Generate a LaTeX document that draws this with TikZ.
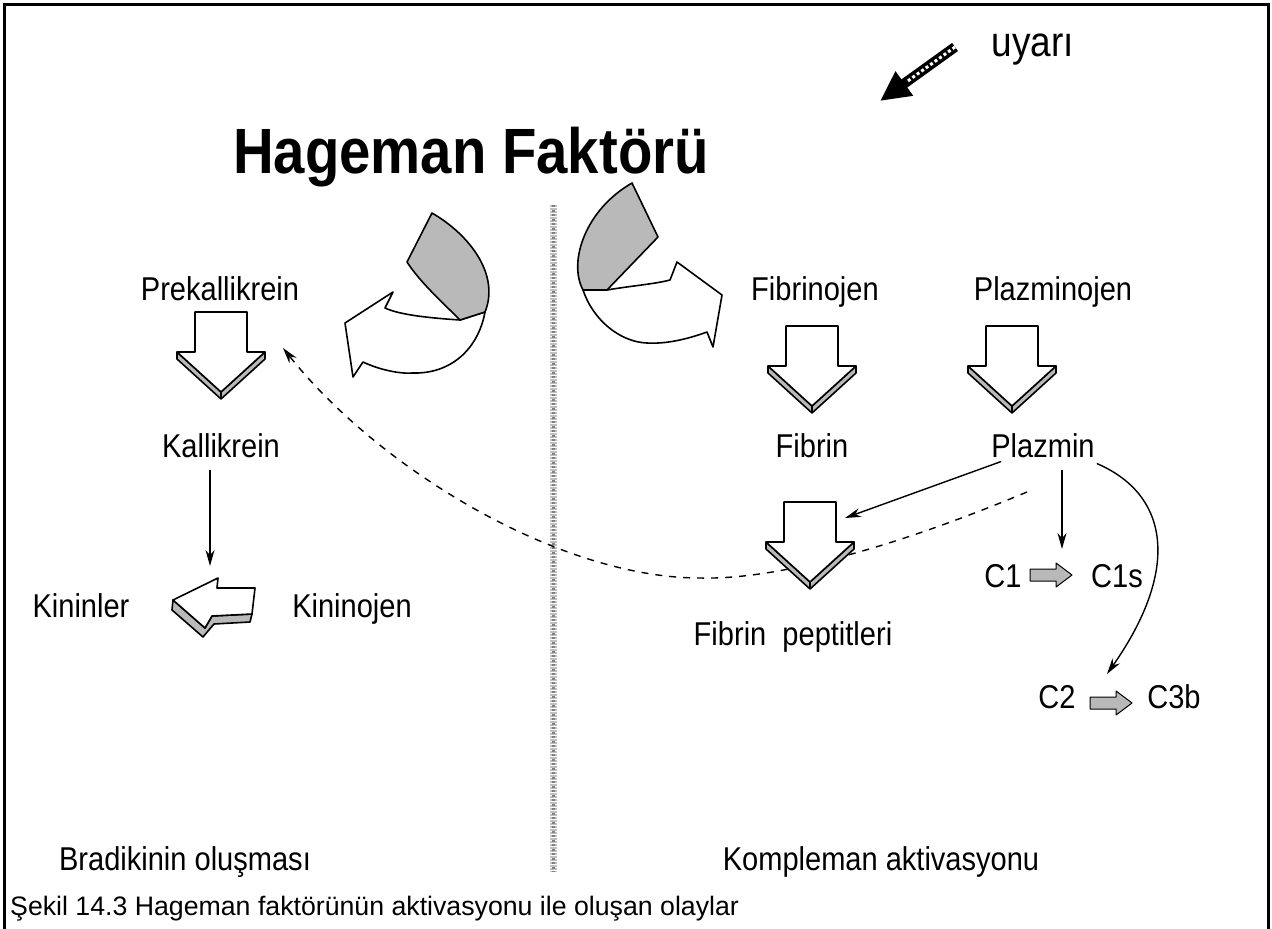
\documentclass[tikz,border=0pt]{standalone}
\usepackage{fontspec}
\setmainfont{Liberation Sans}
\newfontfamily\etkfont[FakeStretch=0.88]{Liberation Sans}
\usetikzlibrary{calc,arrows.meta}

\tikzset{
  lbl/.style={font=\etkfont\fontsize{33}{36}\selectfont, inner sep=0pt, anchor=base},
  blok/.style={draw, line width=1.6pt, fill=white, line join=round},
  band/.style={draw, line width=1.6pt, fill=gray!55, line join=round},
  ince/.style={line width=1.4pt},
}

% asagi bakan blok ok: merkez x, ust y
\newcommand{\asagiok}[2]{%
  \filldraw[band] (#1-44,#2+40) -- (#1,#2+80) -- (#1+44,#2+40) -- (#1+44,#2+47) -- (#1,#2+87) -- (#1-44,#2+47) -- cycle;
  \draw[line width=1.2pt] (#1,#2+80) -- (#1,#2+87);
  \filldraw[blok] (#1-26,#2) -- (#1+26,#2) -- (#1+26,#2+40) -- (#1+44,#2+40) -- (#1,#2+80) -- (#1-44,#2+40) -- (#1-26,#2+40) -- cycle;
}
% kucuk gri ok: sol x, orta y
\newcommand{\kucukok}[2]{%
  \filldraw[draw=black, fill=gray!55, line width=1pt, line join=round] (#1,#2-6) -- (#1+26,#2-6) -- (#1+26,#2-12) -- (#1+42,#2) -- (#1+26,#2+12) -- (#1+26,#2+6) -- (#1,#2+6) -- cycle;
}

\begin{document}
\begin{tikzpicture}[x=1pt,y=-1pt,>={Stealth[length=16pt,width=9pt]}]
  \useasboundingbox (0,0) rectangle (1272,929);

  % 1. Cerceve
  \draw[line width=3pt] (4,929) -- (4,4) -- (1268,4) -- (1268,929);

  % 2. Baslik ve uyari oku
  \node[font=\etkfont\bfseries\fontsize{64}{68}\selectfont, anchor=base, inner sep=0pt] (hageman) at (471,173) {Hageman Faktörü};
  \node[lbl, font=\etkfont\fontsize{42}{46}\selectfont] (uyari) at (1033,56) {uyarı};
  \coordinate (uyari-kuyruk) at (955,47);
  \coordinate (uyari-uc) at (880,101);
  \draw[line width=10pt, -{Triangle[length=30pt,width=28pt]}] (uyari-kuyruk) -- (uyari-uc);
  \draw[white, line width=3pt, dash pattern=on 3pt off 2.5pt, shorten >=32pt] (uyari-kuyruk) -- (uyari-uc);

  % 3. Orta ayirici cizgi
  \draw[gray!50, line width=7pt, dash pattern=on 1.5pt off 1.5pt] (553,205) -- (553,872);
  \draw[gray, line width=3pt, dash pattern=on 2pt off 2.5pt] (553,205) -- (553,872);

  % 4. Kivrik oklar (sol ve sag)
  \filldraw[blok] (460,320) .. controls (430,318) and (400,315) .. (385,308) -- (393,292) -- (345,323) -- (353,377) -- (363,362)
    .. controls (380,370) and (400,374) .. (413,373) .. controls (450,374) and (478,350) .. (485,312) -- cycle;
  \filldraw[band] (407,262) -- (432,213) .. controls (470,235) and (500,275) .. (485,312) -- (460,320) .. controls (440,300) and (420,282) .. (407,262) -- cycle;

  \filldraw[blok] (607,290) .. controls (630,286) and (655,284) .. (670,280) -- (677,262) -- (722,295) -- (713,347) -- (707,332)
    .. controls (685,340) and (665,344) .. (647,343) .. controls (620,342) and (593,320) .. (583,290) -- cycle;
  \filldraw[band] (583,290) .. controls (568,262) and (585,210) .. (632,183) -- (658,237) -- (607,290) -- cycle;

  % 5. Kesikli geri besleme oku
  \coordinate (kesik-bas) at (1027,492);
  \coordinate (kesik-uc) at (283,348);
  \draw[ince, dash pattern=on 7pt off 7pt, ->] (kesik-bas) .. controls (900,545) and (780,580) .. (700,578)
    .. controls (560,578) and (380,470) .. (kesik-uc);

  % 6. Blok oklar
  \asagiok{221}{312}
  \asagiok{812}{326}
  \asagiok{1012}{326}
  \asagiok{810}{502}
  % Kininojen -> Kininler (sola)
  \filldraw[band] (173,600) -- (205,628) -- (212,616) -- (252,614) -- (250,622) -- (214,624) -- (203,637) -- (172,610) -- cycle;
  \filldraw[blok] (173,600) -- (218,578) -- (217,588) -- (255,588) -- (252,614) -- (212,616) -- (205,628) -- cycle;
  \kucukok{1030}{575}
  \kucukok{1090}{703}

  % 7. Etiketler
  \node[lbl] (prekal) at (220,300) {Prekallikrein};
  \node[lbl] (kal) at (221,457) {Kallikrein};
  \node[lbl] (kininler) at (81,617) {Kininler};
  \node[lbl] (kininojen) at (352,617) {Kininojen};
  \node[lbl] (fibrinojen) at (815,300) {Fibrinojen};
  \node[lbl] (plazminojen) at (1053,300) {Plazminojen};
  \node[lbl] (fibrin) at (812,457) {Fibrin};
  \node[lbl] (plazmin) at (1043,457) {Plazmin};
  \node[lbl] (peptit) at (793,645) {Fibrin\ \ peptitleri};
  \node[lbl] (cbir) at (1003,587) {C1};
  \node[lbl] (cbirs) at (1117,587) {C1s};
  \node[lbl] (ciki) at (1057,708) {C2};
  \node[lbl] (cucb) at (1174,708) {C3b};

  % 8. Ince oklar
  \coordinate (kinin-ok) at (210,566);
  \coordinate (peptit-ok) at (845,518);
  \coordinate (cbir-ok) at (1062,549);
  \coordinate (ciki-ok) at (1107,674);
  \draw[ince, ->] (kal.south -| kinin-ok) ++(0,12) -- (kinin-ok);
  \draw[ince, ->] ([xshift=10pt,yshift=-4pt]plazmin.south west) -- (peptit-ok);
  \draw[ince, ->] (plazmin.south -| cbir-ok) ++(0,12) -- (cbir-ok);
  \draw[ince, ->] ([xshift=2pt,yshift=-6pt]plazmin.south east) .. controls (1170,495) and (1180,570) .. (ciki-ok);

  % 9. Alt basliklar ve sekil yazisi
  \node[lbl] (bradi) at (185,870) {Bradikinin oluşması};
  \node[lbl] (kompl) at (881,870) {Kompleman aktivasyonu};
  \node[font=\fontsize{26.7}{30}\selectfont, anchor=base west, inner sep=0pt] (sekil) at (10,915) {Şekil 14.3 Hageman faktörünün aktivasyonu ile oluşan olaylar};
\end{tikzpicture}
\end{document}
